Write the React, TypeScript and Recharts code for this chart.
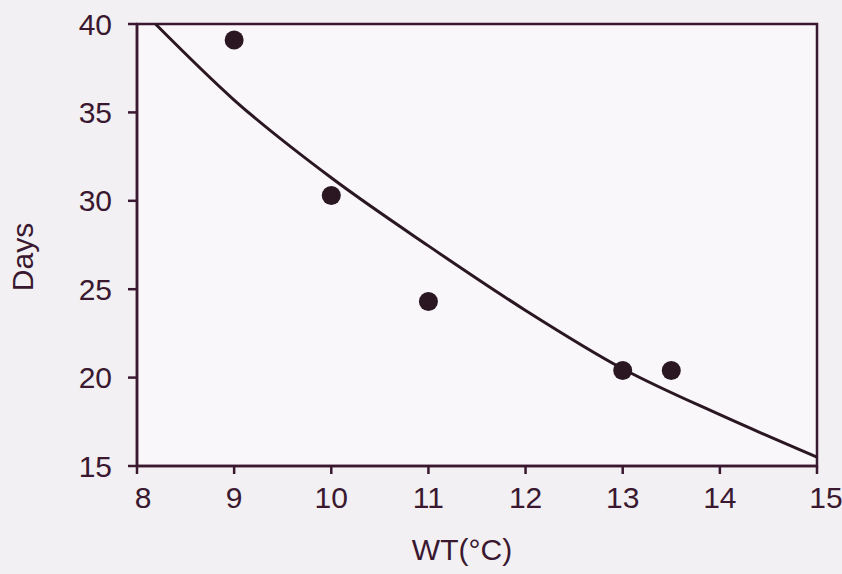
import { ScatterChart, Scatter, XAxis, YAxis, ReferenceArea, Label } from 'recharts'

// observed points (WT °C vs days)
const wt = [9, 10, 11, 13, 13.5]
const days = [39.1, 30.3, 24.3, 20.4, 20.4]

// fitted curve
const curveWt = [8.19, 9, 10, 11, 12, 13, 14, 15]
const curveDays = [40, 35.7, 31.3, 27.45, 23.8, 20.5, 17.9, 15.5]

const xTicks = [8, 9, 10, 11, 12, 13, 14, 15]
const yTicks = [15, 20, 25, 30, 35, 40]

const points = wt.map((x, i) => ({ x, y: days[i] }))
const curve = curveWt.map((x, i) => ({ x, y: curveDays[i] }))

const ink = '#3a1830'
const font = '"Liberation Sans", Arial, sans-serif'

const Dot = (p: any) => <circle cx={p.cx} cy={p.cy} r={9.5} fill="#2a1722" />
const Nothing = () => <g />

// the end labels sit a little right of their ticks in the original
const XTick = (p: any) => {
  const v = p.payload.value
  const shift = v === 8 ? 6 : v === 15 ? 9 : 0
  return (
    <text x={p.x + shift} y={p.y} dy="0.71em" textAnchor="middle" fill={ink} fontSize={30} fontFamily={font}>
      {v}
    </text>
  )
}

export default function App() {
  return (
    <div style={{ width: 842, height: 574, background: '#f2f0f2' }}>
      <style>{`body{margin:0}`}</style>
      <ScatterChart width={842} height={574} margin={{ top: 24, right: 25, bottom: 0, left: 0 }}>
        <ReferenceArea x1={8} x2={15} y1={15} y2={40} fill="#f9f7f9" fillOpacity={1} stroke={ink} strokeWidth={2.5} />
        <XAxis
          type="number"
          dataKey="x"
          domain={[8, 15]}
          ticks={xTicks}
          height={108}
          tickSize={8}
          tickMargin={13}
          stroke={ink}
          strokeWidth={2.5}
          tick={<XTick />}
        >
          <Label value="WT(°C)" position="insideBottom" offset={14} dx={-15} fill={ink} fontSize={30} fontFamily={font} />
        </XAxis>
        <YAxis
          type="number"
          dataKey="y"
          domain={[15, 40]}
          ticks={yTicks}
          width={137}
          tickSize={9}
          tickMargin={16}
          stroke={ink}
          strokeWidth={2.5}
          tick={{ fill: ink, fontSize: 30, fontFamily: font }}
        >
          <Label
            content={() => (
              <text x={22} y={257} transform="rotate(-90 22 257)" textAnchor="middle" dominantBaseline="central" fill={ink} fontSize={30} fontFamily={font}>
                Days
              </text>
            )}
          />
        </YAxis>
        <Scatter
          data={curve}
          line={{ stroke: '#2a1722', strokeWidth: 3 }}
          lineType="joint"
          lineJointType="monotoneX"
          shape={Nothing}
          isAnimationActive={false}
        />
        <Scatter data={points} shape={Dot} isAnimationActive={false} />
      </ScatterChart>
    </div>
  )
}
